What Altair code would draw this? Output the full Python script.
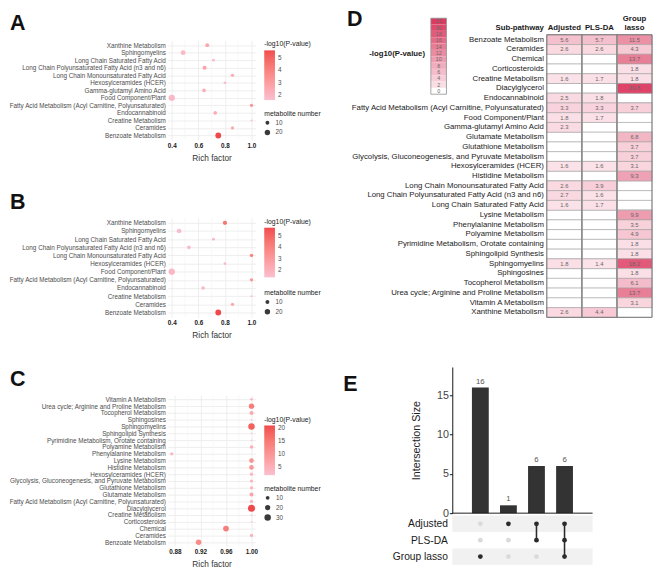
import altair as alt
import pandas as pd

FONT = "Liberation Sans"

# ------------------------------------------------------------------
# Panel D: -log10(P-value) of every sub-pathway for the three methods
# ------------------------------------------------------------------
subpathways = [
    "Benzoate Metabolism", "Ceramides", "Chemical", "Corticosteroids",
    "Creatine Metabolism", "Diacylglycerol", "Endocannabinoid",
    "Fatty Acid Metabolism (Acyl Carnitine, Polyunsaturated)",
    "Food Component/Plant", "Gamma-glutamyl Amino Acid",
    "Glutamate Metabolism", "Glutathione Metabolism",
    "Glycolysis, Gluconeogenesis, and Pyruvate Metabolism",
    "Hexosylceramides (HCER)", "Histidine Metabolism",
    "Long Chain Monounsaturated Fatty Acid",
    "Long Chain Polyunsaturated Fatty Acid (n3 and n6)",
    "Long Chain Saturated Fatty Acid", "Lysine Metabolism",
    "Phenylalanine Metabolism", "Polyamine Metabolism",
    "Pyrimidine Metabolism, Orotate containing", "Sphingolipid Synthesis",
    "Sphingomyelins", "Sphingosines", "Tocopherol Metabolism",
    "Urea cycle; Arginine and Proline Metabolism", "Vitamin A Metabolism",
    "Xanthine Metabolism",
]
adjusted = [5.6, 2.6, None, None, 1.6, None, 2.5, 3.3, 1.8, 2.3, None, None, None, 1.6, None,
            2.6, 2.7, 1.6, None, None, None, None, None, 1.8, None, None, None, None, 2.6]
pls_da = [5.7, 2.6, None, None, 1.7, None, 1.8, 3.3, 1.7, None, None, None, None, 1.6, None,
          3.9, 1.6, 1.7, None, None, None, None, None, 1.4, None, None, None, None, 4.4]
group_lasso = [11.5, 4.3, 13.7, 1.8, 1.8, 20.8, None, 3.7, None, None, 6.8, 3.7, 3.7, 3.1, 9.3,
               None, None, None, 9.9, 3.5, 4.9, 1.8, 1.8, 18.2, 1.8, 6.1, 13.7, 3.1, None]
methods = ["Adjusted", "PLS-DA", "Group lasso"]
header_line1 = ["", "", "Group"]
header_line2 = ["Adjusted", "PLS-DA", "lasso"]
legend_steps = [22, 20, 18, 16, 14, 12, 10, 8, 6, 4, 2, 0]

# ------------------------------------------------------------------
# Panels A-C: enrichment dot plots (rows listed top -> bottom)
# ------------------------------------------------------------------
a_paths = ["Xanthine Metabolism", "Sphingomyelins", "Long Chain Saturated Fatty Acid",
           "Long Chain Polyunsaturated Fatty Acid (n3 and n6)", "Long Chain Monounsaturated Fatty Acid",
           "Hexosylceramides (HCER)", "Gamma-glutamyl Amino Acid", "Food Component/Plant",
           "Fatty Acid Metabolism (Acyl Carnitine, Polyunsaturated)", "Endocannabinoid",
           "Creatine Metabolism", "Ceramides", "Benzoate Metabolism"]
a_rich = [0.667, 0.485, 0.714, 0.647, 0.857, 0.8, 0.643, 0.4, 1.0, 0.727, 1.0, 0.857, 0.75]
a_count = [10, 16, 5, 11, 6, 4, 9, 28, 6, 8, 1, 6, 24]

b_paths = ["Xanthine Metabolism", "Sphingomyelins", "Long Chain Saturated Fatty Acid",
           "Long Chain Polyunsaturated Fatty Acid (n3 and n6)", "Long Chain Monounsaturated Fatty Acid",
           "Hexosylceramides (HCER)", "Food Component/Plant",
           "Fatty Acid Metabolism (Acyl Carnitine, Polyunsaturated)", "Endocannabinoid",
           "Creatine Metabolism", "Ceramides", "Benzoate Metabolism"]
b_rich = [0.8, 0.455, 0.714, 0.529, 1.0, 0.8, 0.4, 1.0, 0.636, 1.0, 0.857, 0.75]
b_count = [12, 15, 5, 9, 7, 4, 28, 6, 7, 1, 6, 24]

c_paths = ["Vitamin A Metabolism", "Urea cycle; Arginine and Proline Metabolism", "Tocopherol Metabolism",
           "Sphingosines", "Sphingomyelins", "Sphingolipid Synthesis",
           "Pyrimidine Metabolism, Orotate containing", "Polyamine Metabolism", "Phenylalanine Metabolism",
           "Lysine Metabolism", "Histidine Metabolism", "Hexosylceramides (HCER)",
           "Glycolysis, Gluconeogenesis, and Pyruvate Metabolism", "Glutathione Metabolism",
           "Glutamate Metabolism", "Fatty Acid Metabolism (Acyl Carnitine, Polyunsaturated)",
           "Diacylglycerol", "Creatine Metabolism", "Corticosteroids", "Chemical", "Ceramides",
           "Benzoate Metabolism"]
c_rich = [1.0, 1.0, 1.0, 1.0, 1.0, 1.0, 1.0, 1.0, 0.875, 1.0, 1.0, 1.0, 1.0, 1.0, 1.0, 1.0,
          1.0, 1.0, 1.0, 0.96, 1.0, 0.917]
c_count = [4, 21, 11, 1, 30, 1, 1, 8, 7, 15, 15, 7, 7, 7, 11, 7, 36, 1, 1, 24, 7, 22]

# ------------------------------------------------------------------
# Panel E: UpSet intersections
# ------------------------------------------------------------------
set_names = ["Adjusted", "PLS-DA", "Group lasso"]
upset_ids = ["Group lasso only", "Adjusted only", "Adjusted & PLS-DA", "All three"]
upset_sizes = [16, 1, 6, 6]
upset_members = [["Group lasso"], ["Adjusted"], ["Adjusted", "PLS-DA"],
                 ["Adjusted", "PLS-DA", "Group lasso"]]


def lookup(column, paths):
    d = dict(zip(subpathways, column))
    return [d[p] for p in paths]


PINK, RED = "#F9B4C6", "#EE2A2E"
INDEP = dict(color="independent", size="independent", fill="independent",
             x="independent", y="independent")


def panel_title(letter, dx, offset):
    return alt.TitleParams(text=letter, anchor="start", frame="group", fontSize=22,
                           fontWeight="bold", color="#111111", dx=dx, offset=offset,
                           baseline="alphabetic")


def dot_panel(letter, paths, rich, counts, logp, x_domain, x_ticks, x_minor, x_fmt,
              color_values, size_values, size_range, height, color_leg_y, size_leg_y, t_off):
    df = pd.DataFrame({"pathway": paths, "rich": rich, "count": counts, "logp": logp})
    xs = alt.Scale(domain=x_domain, zero=False, nice=False)
    ys = alt.Scale(type="point", domain=paths, padding=0.6)
    x_axis = alt.Axis(title="Rich factor", values=x_ticks, format=x_fmt, labelFontSize=6.5,
                      labelFontWeight="bold", labelColor="#1A1A1A", labelPadding=2.5,
                      domain=False, ticks=False, grid=True, gridColor="#EBEBEB", gridWidth=0.9,
                      titleFontSize=8.5, titleFontWeight="normal", titleColor="#333333",
                      titlePadding=5, labelFlush=False)
    y_axis = alt.Axis(title=None, labelFontSize=6.5, labelColor="#4D4D4D", labelPadding=2.5,
                      domain=False, ticks=False, grid=True, gridColor="#EBEBEB", gridWidth=0.9,
                      labelLimit=300)
    minor = alt.Chart(pd.DataFrame({"m": x_minor})).mark_rule(
        color="#F3F3F3", strokeWidth=0.6).encode(x=alt.X("m:Q", scale=xs, axis=x_axis))
    pts = alt.Chart(df).mark_circle(opacity=0.85).encode(
        x=alt.X("rich:Q", scale=xs, axis=x_axis),
        y=alt.Y("pathway:N", scale=ys, axis=y_axis),
        color=alt.Color("logp:Q",
                        scale=alt.Scale(domain=[min(logp), max(logp)], range=[PINK, RED],
                                        interpolate="lab"),
                        legend=alt.Legend(title="-log10(P-value)", orient="none", legendX=99,
                                          legendY=color_leg_y, direction="vertical",
                                          gradientLength=51, gradientThickness=11,
                                          values=color_values, titleFontSize=7,
                                          titleFontWeight="normal", titleColor="#1A1A1A",
                                          labelFontSize=6.5, labelColor="#4D4D4D",
                                          titlePadding=3, labelOffset=3,
                                          gradientStrokeWidth=0, titleLimit=200)),
        size=alt.Size("count:Q",
                      scale=alt.Scale(domain=[min(counts), max(counts)], range=size_range,
                                      zero=False),
                      legend=alt.Legend(title="metabolite number", orient="none", legendX=99,
                                        legendY=size_leg_y, values=size_values,
                                        symbolFillColor="#3A3A3A", symbolStrokeWidth=0,
                                        symbolOpacity=1, symbolType="circle",
                                        titleFontSize=7, titleFontWeight="normal",
                                        titleColor="#1A1A1A", labelFontSize=6.5,
                                        labelColor="#4D4D4D", rowPadding=3, titlePadding=3,
                                        labelOffset=5)),
    )
    return alt.layer(minor, pts).properties(width=90, height=height,
                                            title=panel_title(letter, -162, t_off))


panel_a = dot_panel("A", a_paths, a_rich, a_count, lookup(adjusted, a_paths),
                    [0.37, 1.03], [0.4, 0.6, 0.8, 1.0], [0.5, 0.7, 0.9], ".1f",
                    [2, 3, 4, 5], [10, 20], [3.5, 42], 102, 0, 71, -11)
panel_b = dot_panel("B", b_paths, b_rich, b_count, lookup(pls_da, b_paths),
                    [0.37, 1.03], [0.4, 0.6, 0.8, 1.0], [0.5, 0.7, 0.9], ".1f",
                    [2, 3, 4, 5], [10, 20], [3.5, 42], 102, 0, 73, -13)
panel_c = dot_panel("C", c_paths, c_rich, c_count, lookup(group_lasso, c_paths),
                    [0.86875, 1.00625], [0.88, 0.92, 0.96, 1.0], [0.90, 0.94, 0.98], ".2f",
                    [5, 10, 15, 20], [10, 20, 30], [2.5, 52], 155, 21, 92, -12.5)

# ------------------------------------------------------------------
# Panel D: table heat map
# ------------------------------------------------------------------
n_rows, n_cols = len(subpathways), len(methods)
value_cols = [adjusted, pls_da, group_lasso]
recs = []
for i, name in enumerate(subpathways, start=1):
    for j, vals in enumerate(value_cols, start=1):
        recs.append({"pathway": name, "method": methods[j - 1], "row": i, "col": j,
                     "y0": i - 0.5, "y1": i + 0.5, "x0": j - 0.5, "x1": j + 0.5,
                     "value": vals[i - 1]})
cells = pd.DataFrame(recs)
filled = cells[cells["value"].notna()].copy()
filled["value"] = filled["value"].astype(float)

tx = alt.Scale(domain=[0.5, n_cols + 0.5], range=[97, 205], zero=False, nice=False)
ty = alt.Scale(domain=[0.5, n_rows + 0.5], range=[-6, 284], zero=False, nice=False)
fill_scale = alt.Scale(domain=[0, 1, 22], range=["#FFFFFF", "#FCE6EC", "#DC3A60"],
                       interpolate="rgb")

base_cells = alt.Chart(cells).mark_rect(fill="white", stroke="#A3A3A3", strokeWidth=0.6).encode(
    x=alt.X("x0:Q", scale=tx, axis=None), x2="x1:Q",
    y=alt.Y("y0:Q", scale=ty, axis=None), y2="y1:Q")
color_cells = alt.Chart(filled).mark_rect(stroke="#A3A3A3", strokeWidth=0.6).encode(
    x=alt.X("x0:Q", scale=tx, axis=None), x2="x1:Q",
    y=alt.Y("y0:Q", scale=ty, axis=None), y2="y1:Q",
    fill=alt.Fill("value:Q", scale=fill_scale, legend=None))
cell_text = alt.Chart(filled).mark_text(fontSize=6, color="#666666").encode(
    x=alt.X("col:Q", scale=tx, axis=None), y=alt.Y("row:Q", scale=ty, axis=None),
    text=alt.Text("value:Q", format=".1f"))
row_labels = alt.Chart(pd.DataFrame({"pathway": subpathways,
                                     "row": list(range(1, n_rows + 1))})).mark_text(
    align="right", dx=-3, fontSize=8, color="#1A1A1A").encode(
    x=alt.X(datum=0.5, scale=tx, axis=None), y=alt.Y("row:Q", scale=ty, axis=None),
    text="pathway:N")
head_df = pd.DataFrame({
    "h": header_line2 + header_line1,
    "col": list(range(1, n_cols + 1)) * 2,
    "row": [0.0] * n_cols + [-0.9] * n_cols,
})
head_df = head_df[head_df["h"] != ""]
head_methods = alt.Chart(head_df).mark_text(
    baseline="bottom", dy=2, fontSize=8, fontWeight="bold", color="#1A1A1A").encode(
    x=alt.X("col:Q", scale=tx, axis=None), y=alt.Y("row:Q", scale=ty, axis=None), text="h:N")
head_sub = alt.Chart(pd.DataFrame({"h": ["Sub-pathway"], "row": [0]})).mark_text(
    align="right", baseline="bottom", dy=2, dx=-3, fontSize=8, fontWeight="bold",
    color="#1A1A1A").encode(
    x=alt.X(datum=0.5, scale=tx, axis=None), y=alt.Y("row:Q", scale=ty, axis=None), text="h:N")
separators = alt.Chart(pd.DataFrame({"x": [j + 0.5 for j in range(1, n_cols)]})).mark_rule(
    color="#8E8E8E", strokeWidth=1.8).encode(
    x=alt.X("x:Q", scale=tx, axis=None),
    y=alt.Y(datum=0.5, scale=ty, axis=None), y2=alt.Y2(datum=n_rows + 0.5))
border = alt.Chart(pd.DataFrame({"a": [0]})).mark_rect(
    fill=None, stroke="#6E6E6E", strokeWidth=0.9).encode(
    x=alt.X(datum=0.5, scale=tx, axis=None), x2=alt.X2(datum=n_cols + 0.5),
    y=alt.Y(datum=0.5, scale=ty, axis=None), y2=alt.Y2(datum=n_rows + 0.5))
table_group = alt.layer(base_cells, color_cells, cell_text, separators, border,
                        row_labels, head_methods, head_sub)

lx = alt.Scale(domain=[0, 1], range=[-22, -6], zero=False, nice=False)
ly = alt.Scale(domain=[-1, 23], range=[55, -23], zero=False, nice=False)
leg_df = pd.DataFrame({"v": legend_steps})
leg_rects = alt.Chart(leg_df).transform_calculate(lo="datum.v - 1", hi="datum.v + 1").mark_rect().encode(
    x=alt.X(datum=0, scale=lx, axis=None), x2=alt.X2(datum=1),
    y=alt.Y("lo:Q", scale=ly, axis=None), y2="hi:Q",
    fill=alt.Fill("v:Q", scale=fill_scale, legend=None))
leg_outline = alt.Chart(pd.DataFrame({"a": [0]})).mark_rect(
    fill=None, stroke="#8E8E8E", strokeWidth=0.8).encode(
    x=alt.X(datum=0, scale=lx, axis=None), x2=alt.X2(datum=1),
    y=alt.Y(datum=-1, scale=ly, axis=None), y2=alt.Y2(datum=23))
leg_labels = alt.Chart(leg_df).mark_text(fontSize=5.5, color="#6B6B6B").encode(
    x=alt.X(datum=0.5, scale=lx, axis=None), y=alt.Y("v:Q", scale=ly, axis=None), text="v:Q")
leg_title = alt.Chart(pd.DataFrame({"t": ["-log10(P-value)"]})).mark_text(
    align="right", dx=-6, fontSize=8, fontWeight="bold", color="#1A1A1A").encode(
    x=alt.X(datum=0, scale=lx, axis=None), y=alt.value(14), text="t:N")
legend_group = alt.layer(leg_rects, leg_outline, leg_labels, leg_title)

panel_d = alt.layer(legend_group, table_group).resolve_scale(
    x="independent", y="independent").properties(
    width=205, height=255, title=panel_title("D", -108, -33.5))

# ------------------------------------------------------------------
# Panel E: UpSet plot
# ------------------------------------------------------------------
ex = alt.Scale(domain=upset_ids, paddingInner=0.4, paddingOuter=0.7)
ey = alt.Scale(domain=[0, 18.6], range=[150, 0], zero=True, nice=False)
em = alt.Scale(domain=[-0.5, len(set_names) - 0.5], range=[152.5, 203], zero=False, nice=False)

bar_axis = alt.Axis(orient="left", values=[0, 5, 10, 15], title="Intersection Size",
                    titleFontSize=11, titleFontWeight="normal", titleColor="#222222",
                    labelFontSize=11, labelColor="#444444", domainColor="#111111",
                    domainWidth=1, tickColor="#111111", tickSize=3, labelPadding=1,
                    titlePadding=15, grid=False)
bars_df = pd.DataFrame({"id": upset_ids, "size": upset_sizes})
bars = alt.Chart(bars_df).mark_bar(color="#333333").encode(
    x=alt.X("id:N", scale=ex, axis=None), y=alt.Y("size:Q", scale=ey, axis=bar_axis))
bar_text = alt.Chart(bars_df).mark_text(baseline="bottom", dy=-2, fontSize=8,
                                        color="#555555").encode(
    x=alt.X("id:N", scale=ex, axis=None), y=alt.Y("size:Q", scale=ey, axis=bar_axis),
    text="size:Q")
zero_line = alt.Chart(pd.DataFrame({"a": [0]})).mark_rule(color="#1A1A1A", strokeWidth=1).encode(
    y=alt.Y(datum=0, scale=ey, axis=bar_axis))
bars_group = alt.layer(bars, bar_text, zero_line)

label_expr = "[" + ",".join("'%s'" % s for s in set_names) + "][datum.value]"
m_axis = alt.Axis(orient="left", values=list(range(len(set_names))), labelExpr=label_expr,
                  title=None, domain=False, ticks=False, grid=False, labelFontSize=10.5,
                  labelColor="#1A1A1A", labelPadding=5)
stripe_df = pd.DataFrame({"k": [k for k in range(len(set_names)) if k % 2 == 0]})
stripe_df["y0"] = stripe_df["k"] - 0.5
stripe_df["y1"] = stripe_df["k"] + 0.5
stripes = alt.Chart(stripe_df).mark_rect(color="#F1F1F1").encode(
    x=alt.value(0), x2=alt.value("width"),
    y=alt.Y("y0:Q", scale=em, axis=m_axis), y2="y1:Q")
dot_recs, line_recs = [], []
for uid, mem in zip(upset_ids, upset_members):
    ks = [set_names.index(s) for s in mem]
    for k, s in enumerate(set_names):
        dot_recs.append({"id": uid, "k": k, "member": "yes" if s in mem else "no"})
    if len(ks) > 1:
        line_recs.append({"id": uid, "kmin": min(ks), "kmax": max(ks)})
m_lines = alt.Chart(pd.DataFrame(line_recs)).mark_rule(color="#2B2B2B", strokeWidth=1.6).encode(
    x=alt.X("id:N", scale=ex, axis=None), y=alt.Y("kmin:Q", scale=em, axis=m_axis), y2="kmax:Q")
m_dots = alt.Chart(pd.DataFrame(dot_recs)).mark_circle(size=24, opacity=1).encode(
    x=alt.X("id:N", scale=ex, axis=None), y=alt.Y("k:Q", scale=em, axis=m_axis),
    color=alt.Color("member:N", scale=alt.Scale(domain=["yes", "no"],
                                                range=["#2B2B2B", "#DADADA"]), legend=None))
matrix_group = alt.layer(stripes, m_lines, m_dots)

panel_e = alt.layer(bars_group, matrix_group).resolve_scale(y="independent").properties(
    width=144, height=203, title=panel_title("E", -112, -46.5))

# ------------------------------------------------------------------
left_col = alt.vconcat(panel_a, panel_b, panel_c, spacing=80, bounds="flush").resolve_scale(**INDEP)
right_col = alt.vconcat(panel_d, panel_e, spacing=80, bounds="flush").resolve_scale(**INDEP)
chart = alt.hconcat(left_col, right_col, spacing=23).resolve_scale(**INDEP).properties(
    padding={"top": -7, "left": 0, "right": 0, "bottom": 0}
).configure(font=FONT).configure_view(stroke=None)

chart.save("out.html", embed_options={"renderer": "svg", "actions": False})
